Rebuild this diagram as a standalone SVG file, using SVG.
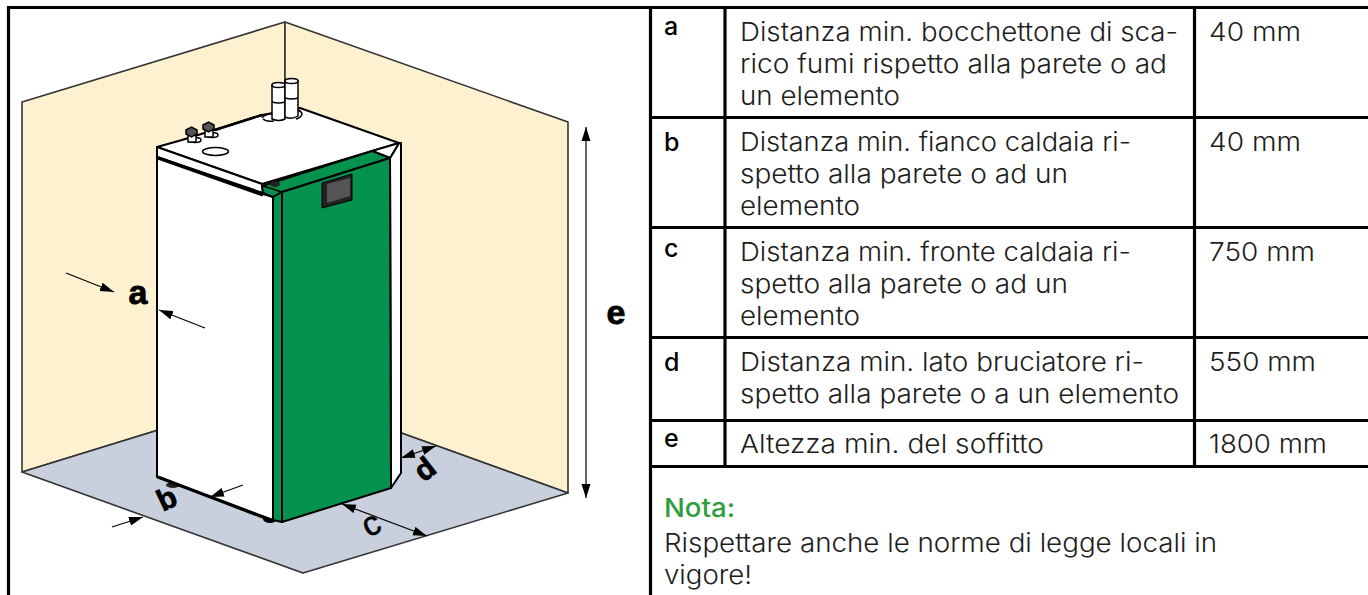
<svg xmlns="http://www.w3.org/2000/svg" width="1368" height="595" viewBox="0 0 1368 595">
<style>
.o{stroke:#000;stroke-width:2;stroke-linejoin:round}
.w{stroke:#333;stroke-width:1.6;stroke-linejoin:round}
.p{stroke:#000;stroke-width:1.500;fill:#fff}
.t{font-family:Inter,"Noto Sans",sans-serif;font-weight:300;font-size:26px;fill:#1d1d1b}
.k{font-family:Inter,"Noto Sans",sans-serif;font-weight:500;font-size:25px;fill:#000}
.g{font-family:"Liberation Sans",Arial,sans-serif;font-weight:700;font-size:34px;fill:#000;stroke:#000;stroke-width:.8;text-anchor:middle}
.d{stroke:#000;stroke-width:1.2;fill:none;marker-start:url(#ah);marker-end:url(#ah)}
.s{stroke:#000;stroke-width:1.2;fill:none;marker-end:url(#ah)}
.b{stroke:#000;stroke-width:3.2;fill:none}
</style>
<defs><marker id="ah" viewBox="0 0 14 10" refX="14" refY="5" markerWidth="14" markerHeight="10" markerUnits="userSpaceOnUse" orient="auto-start-reverse"><path d="M0 0.500L14 5L0 9.500z"/></marker></defs>
<rect width="1368" height="595" fill="#fff"/>
<g id="walls">
<polygon points="22,102 285,22 285,391 22,472" fill="#fdf1d0" class="w"/>
<polygon points="285,22 568,122 568,493 285,391" fill="#fdf1d0" class="w"/>
<polygon points="22,472 285,391 568,493 303,573" fill="#c8cfdd" class="w"/>
</g>
<g id="boiler">
<ellipse cx="173" cy="485" rx="7" ry="3" fill="#222"/><ellipse cx="270" cy="519" rx="7" ry="4" fill="#000"/>
<polygon points="157,147 182,140 262,115 300,108 399,143 262,184" fill="#fff" class="o"/>
<path d="M215 130L262 115" stroke="#000" stroke-width="2.500"/>
<polygon points="157,147 262,184 263,193 157,157" fill="#fff" class="o"/>
<polygon points="157,157 263,194 273,197 273,520 157,477" fill="#fff" class="o"/>
<path d="M158 158L263 195M158 477L268 519" stroke="#000" stroke-width="3.200"/>
<polygon points="390,158 399,143 401,143 401,473 391,488" fill="#fff" class="o"/>
<polygon points="372,151 399,143 390,158" fill="#fff" class="o"/>
<polygon points="262,186 372,151 390,158 282,192 273,197 263,193" fill="#05924e" class="o"/>
<polygon points="273,197 282,192 282,522 273,520" fill="#05924e" class="o"/>
<polygon points="282,192 390,158 391,488 282,522" fill="#05924e" class="o"/>
<path d="M263 186L282 192" stroke="#000" stroke-width="1.500"/>
<ellipse cx="275" cy="184" rx="5" ry="3" fill="#222"/>
<polygon points="322,183 352,174 352,200 322,208" fill="#222" stroke="#000"/>
<polygon points="327,184 350,178 350,196 327,203" fill="#555"/>
<ellipse cx="215.500" cy="151.500" rx="13" ry="4" class="o p" stroke-width="1.5"/>
<path d="M262 118Q264 114 275 113M298 110Q302 112 302 114Q301 118 296 119M263 119Q266 122 274 121" fill="none" stroke="#000" stroke-width="1.500"/>
<path d="M272 85V119Q279 122 285 119V85Z" class="p"/><ellipse cx="278.500" cy="85" rx="6.500" ry="2.500" class="p"/>
<path d="M285 81V117Q292 120 298 116V81Z" class="p"/><ellipse cx="291.500" cy="81" rx="6.500" ry="2.500" class="p"/>
<path d="M272 102Q279 104 285 102M285 98Q292 100 298 98" fill="none" stroke="#000" stroke-width="1.500"/>
<ellipse cx="195" cy="140" rx="6" ry="2.500" class="p"/><path d="M188 134H196V142H188Z" class="p"/>
<polygon points="186,130 191.500,127 197,130 197,134 191.500,137 186,134" fill="#555" stroke="#000" stroke-width="1.500"/>
<ellipse cx="212" cy="135" rx="6" ry="2.500" class="p"/><path d="M205 129H213V137H205Z" class="p"/>
<polygon points="203,125 208.500,122 214,125 214,129 208.500,132 203,129" fill="#555" stroke="#000" stroke-width="1.500"/>
</g>
<g id="connectors">
<line x1="66" y1="273" x2="114" y2="292" class="s"/>
<line x1="205" y1="328" x2="159" y2="310" class="s"/>
<line x1="586" y1="127" x2="586" y2="498" class="d"/>
<line x1="401" y1="458" x2="436" y2="446" class="d"/>
<line x1="342" y1="504" x2="427" y2="536" class="d"/>
<line x1="243" y1="485" x2="210" y2="497" class="s"/>
<line x1="112" y1="527" x2="143" y2="517" class="s"/>
</g>
<g id="labels">
<text x="138" y="304" class="g">a</text>
<text x="616" y="324" class="g">e</text>
<text transform="translate(171,508) rotate(-25)" class="g" style="font-size:30px">b</text>
<text transform="translate(372,526) rotate(-25)" class="g" y="9" style="font-weight:400;stroke-width:.5;font-size:34px">c</text>
<text transform="translate(431,477) rotate(-38)" class="g" style="font-size:30px">d</text>
</g>
<g id="table">
<path class="b" d="M8.500 595V7.500H1368M650.500 7.500V595M725 7.500V466.500M1194.500 7.500V466.500M650 117.500H1368M650 227.500H1368M650 337.500H1368M650 420.500H1368M650 466.500H1368"/>
<text x="664" y="35" class="k">a</text><text x="664" y="151" class="k">b</text><text x="664" y="257" class="k">c</text><text x="664" y="371" class="k">d</text><text x="664" y="447" class="k">e</text>
<text class="t" lengthAdjust="spacingAndGlyphs" x="740" y="41" textLength="438">Distanza min. bocchettone di sca-</text>
<text class="t" lengthAdjust="spacingAndGlyphs" x="740" y="73" textLength="427">rico fumi rispetto alla parete o ad</text>
<text class="t" lengthAdjust="spacingAndGlyphs" x="740" y="105" textLength="160">un elemento</text>
<text class="t" lengthAdjust="spacingAndGlyphs" x="740" y="151" textLength="391">Distanza min. fianco caldaia ri-</text>
<text class="t" lengthAdjust="spacingAndGlyphs" x="740" y="183" textLength="328">spetto alla parete o ad un</text>
<text class="t" lengthAdjust="spacingAndGlyphs" x="740" y="215" textLength="120">elemento</text>
<text class="t" lengthAdjust="spacingAndGlyphs" x="740" y="261" textLength="391">Distanza min. fronte caldaia ri-</text>
<text class="t" lengthAdjust="spacingAndGlyphs" x="740" y="293" textLength="328">spetto alla parete o ad un</text>
<text class="t" lengthAdjust="spacingAndGlyphs" x="740" y="325" textLength="120">elemento</text>
<text class="t" lengthAdjust="spacingAndGlyphs" x="740" y="371" textLength="404">Distanza min. lato bruciatore ri-</text>
<text class="t" lengthAdjust="spacingAndGlyphs" x="740" y="403" textLength="439">spetto alla parete o a un elemento</text>
<text class="t" lengthAdjust="spacingAndGlyphs" x="740" y="453" textLength="304">Altezza min. del soffitto</text>
<text class="t" lengthAdjust="spacingAndGlyphs" x="1209" y="41" textLength="92">40 mm</text>
<text class="t" lengthAdjust="spacingAndGlyphs" x="1209" y="151" textLength="92">40 mm</text>
<text class="t" lengthAdjust="spacingAndGlyphs" x="1209" y="261" textLength="106">750 mm</text>
<text class="t" lengthAdjust="spacingAndGlyphs" x="1209" y="371" textLength="107">550 mm</text>
<text class="t" lengthAdjust="spacingAndGlyphs" x="1209" y="453" textLength="118">1800 mm</text>
<text class="t" lengthAdjust="spacingAndGlyphs" x="664" y="517" textLength="71" style="font-weight:500;fill:#2f9e3f">Nota:</text>
<text class="t" lengthAdjust="spacingAndGlyphs" x="664" y="552" textLength="553">Rispettare anche le norme di legge locali in</text>
<text class="t" lengthAdjust="spacingAndGlyphs" x="664" y="584" textLength="88">vigore!</text>
</g>
</svg>
